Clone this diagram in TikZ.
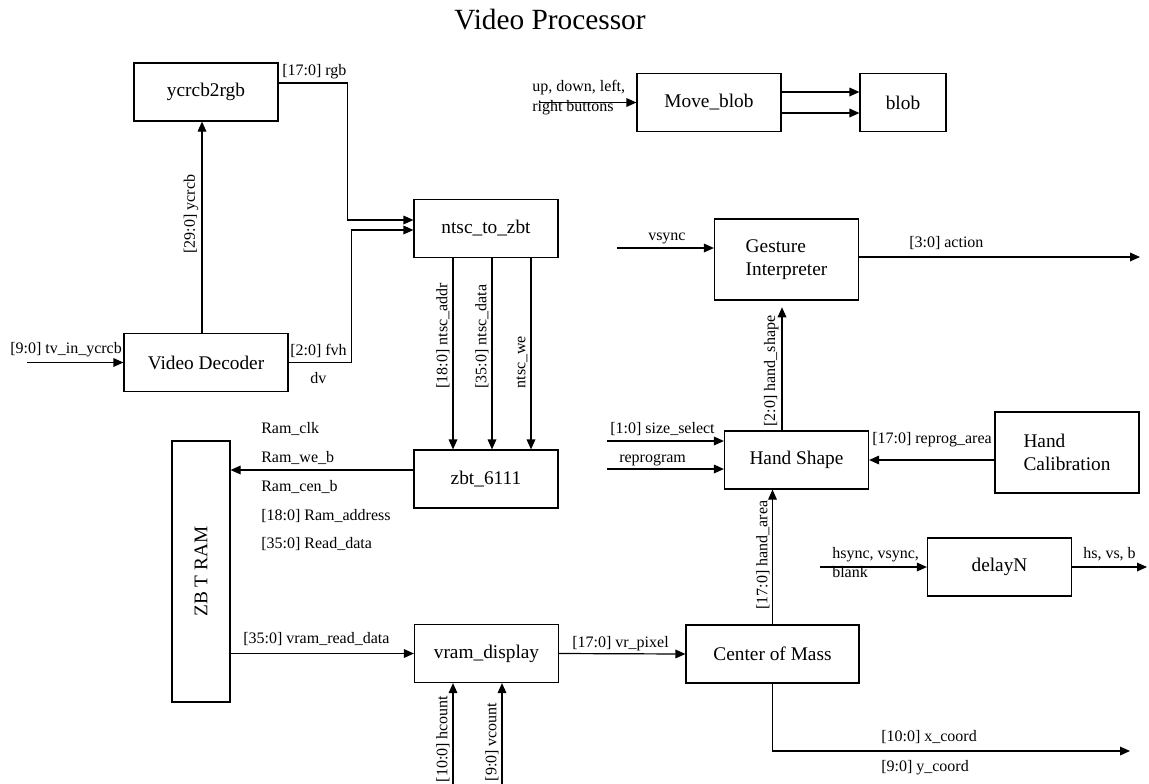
\documentclass[tikz,border=0pt]{standalone}
\usepackage{fontspec}
\setmainfont{Liberation Serif}
\usetikzlibrary{arrows.meta,calc}

\begin{document}
\begin{tikzpicture}[x=0.75pt,y=0.75pt,yscale=-1,xscale=1,
    blk/.style={draw,line width=0.9pt,minimum width=108pt,minimum height=43.5pt,inner sep=0pt,align=left,font=\fontsize{14.5}{17.25}\selectfont},
    sig/.style={line width=0.9pt,-{Triangle[length=7.5pt,width=6.5pt]}},
    lbl/.style={inner sep=0pt,align=left,font=\fontsize{12}{14.5}\selectfont},
    vlbl/.style={lbl,rotate=90,anchor=south west,inner sep=1pt}]
        \useasboundingbox (0,0) rectangle (1149,783);
        \node [font=\fontsize{22}{26}\selectfont] (title) at (550,20) {Video Processor};
        % blocks
        \node [blk] (ycrcb) at (206,92) {ycrcb2rgb};
        \node [blk,minimum width=123pt] (vdec) at (206,362.5) {Video Decoder};
        \node [blk] (ntsc) at (486,228.5) {ntsc\_to\_zbt};
        \node [blk] (zbt) at (486,479) {zbt\_6111};
        \node [blk,rotate=90,minimum width=195.75pt] (zbtram) at (201,571.5) {ZB T RAM};
        \node [blk] (vram) at (486.5,653.5) {vram\_display};
        \node [blk,minimum width=129.75pt] (com) at (772.5,654) {Center of Mass};
        \node [blk] (move) at (709,102.5) {Move\_blob};
        \node [blk,minimum width=64.5pt] (blob) at (903,102.5) {blob};
        \node [blk,minimum height=60.75pt] (gest) at (786.5,259.5) {Gesture\\Interpreter};
        \node [blk] (hand) at (796.5,460) {Hand Shape};
        \node [blk,minimum height=60.75pt] (handcal) at (1067,452.5) {Hand\\Calibration};
        \node [blk] (delay) at (999.5,567) {delayN};
        % free ends
        \coordinate (tvin) at (27,362.5);
        \coordinate (rgbin) at ($(ntsc.west)+(0,-8.5)$);
        \coordinate (fvhin) at ($(ntsc.west)+(0,1.5)$);
        \coordinate (ramout) at ($(zbt.west)+(0,-9)$);
        \coordinate (hcin) at (453,790);
        \coordinate (vcin) at (502,790);
        \coordinate (hsout) at ($(hand.north)+(-14.5,0)$);
        \coordinate (vsin) at (617,248);
        \coordinate (actout) at (1140,257);
        \coordinate (ssin) at (607,441);
        \coordinate (rpin) at (607,469);
        \coordinate (syncin) at (820,567);
        \coordinate (syncout) at (1147,567);
        \coordinate (xyout) at (1130,751);
        \coordinate (btnin) at (539,102.5);
        % connectors
        \draw [sig] (tvin) -- (vdec.west);
        \draw [sig] ($(vdec.north)+(-4,0)$) -- ($(ycrcb.south)+(-4,0)$);
        \draw [sig] ($(ycrcb.east)+(0,-9)$) -- ++(69,0) |- (rgbin);
        \draw [sig] (vdec.east) -- ++(63,0) |- (fvhin);
        \draw [sig] ($(ntsc.south)+(-33,0)$) -- ($(zbt.north)+(-33,0)$);
        \draw [sig] ($(ntsc.south)+(6,0)$) -- ($(zbt.north)+(6,0)$);
        \draw [sig] ($(ntsc.south)+(45,0)$) -- ($(zbt.north)+(45,0)$);
        \draw [sig] (ramout) -- (ramout -| zbtram.south);
        \draw [sig] (zbtram.south |- vram.west) -- (vram.west);
        \draw [sig] (hcin) -- (hcin |- vram.south);
        \draw [sig] (vcin) -- (vcin |- vram.south);
        \draw [sig] (vram.east) -- (com.west);
        \draw [sig] (com.north) -- (com.north |- hand.south);
        \draw [sig,shorten >=5pt] (hsout) -- (hsout |- gest.south);
        \draw [sig] (com.south) |- (xyout);
        \draw [sig] (vsin) -- (vsin -| gest.west);
        \draw [sig] (actout -| gest.east) -- (actout);
        \draw [sig] (ssin) -- (ssin -| hand.west);
        \draw [sig] (rpin) -- (rpin -| hand.west);
        \draw [sig] (handcal.west |- hand.east) -- (hand.east);
        \draw [sig] (syncin) -- (delay.west);
        \draw [sig] (delay.east) -- (syncout);
        \draw [sig] (btnin) -- (move.west);
        \draw [sig] ($(move.east)+(0,-10.5)$) -- ($(blob.west)+(0,-10.5)$);
        \draw [sig] ($(move.east)+(0,10.5)$) -- ($(blob.west)+(0,10.5)$);
        % labels
        \node [lbl,anchor=base west] (lrgb) at (282,75) {[17:0] rgb};
        \node [lbl,anchor=base west] (ltvin) at (10,353) {[9:0] tv\_in\_ycrcb};
        \node [lbl,anchor=base west] (lfvh) at (290,355) {[2:0] fvh};
        \node [lbl,anchor=base west] (ldv) at (310,383) {dv};
        \node [vlbl] (lycrcb) at (200,255) {[29:0] ycrcb};
        \node [vlbl] (laddr) at (451,390) {[18:0] ntsc\_addr};
        \node [vlbl] (ldata) at (490,390) {[35:0] ntsc\_data};
        \node [vlbl] (lwe) at (529,390) {ntsc\_we};
        \node [lbl,anchor=base west] (lclk) at (261,433) {Ram\_clk};
        \node [lbl,anchor=base west] (lweb) at (261,462) {Ram\_we\_b};
        \node [lbl,anchor=base west] (lcen) at (261,491) {Ram\_cen\_b};
        \node [lbl,anchor=base west] (laddress) at (261,520) {[18:0] Ram\_address};
        \node [lbl,anchor=base west] (lread) at (261,548) {[35:0] Read\_data};
        \node [lbl,anchor=base west] (lvrd) at (243,643) {[35:0] vram\_read\_data};
        \node [vlbl,anchor=south east] (lhc) at (451,694) {[10:0] hcount};
        \node [vlbl,anchor=south east] (lvc) at (500,701) {[9:0] vcount};
        \node [lbl,anchor=base west] (lvrp) at (572,647) {[17:0] vr\_pixel};
        \node [vlbl] (lharea) at (771,611) {[17:0] hand\_area};
        \node [lbl,anchor=base west] (lxc) at (881,741) {[10:0] x\_coord};
        \node [lbl,anchor=base west] (lyc) at (881,771) {[9:0] y\_coord};
        \node [lbl,anchor=west,font=\fontsize{12}{14.25}\selectfont] (lsync) at (832,563) {hsync, vsync,\\blank};
        \node [lbl,anchor=base west] (lhs) at (1083,558) {hs, vs, b};
        \node [vlbl] (lhshape) at (780,428) {[2:0] hand\_shape};
        \node [lbl,anchor=base west] (lsize) at (610,433) {[1:0] size\_select};
        \node [lbl,anchor=base west] (lreprog) at (619,462) {reprogram};
        \node [lbl,anchor=base west] (lrarea) at (872,443) {[17:0] reprog\_area};
        \node [lbl,anchor=base west] (lvsync) at (648,240) {vsync};
        \node [lbl,anchor=base west] (laction) at (909,247) {[3:0] action};
        \node [lbl,anchor=west,font=\fontsize{12}{15}\selectfont] (lbtn) at (532,97.5) {up, down, left,\\right buttons};
    \end{tikzpicture}
\end{document}
